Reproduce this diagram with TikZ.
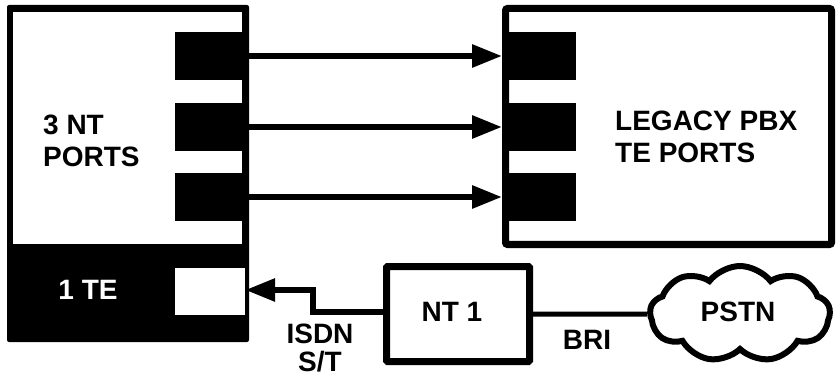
\documentclass[tikz,border=0pt]{standalone}
\usepackage{fontspec}
\setmainfont{Liberation Sans}
\usetikzlibrary{arrows.meta,shapes.symbols}
\begin{document}
\begin{tikzpicture}[x=1pt,y=-1pt,
  lbl/.style={font=\fontsize{28}{32}\selectfont\bfseries, inner sep=0pt},
  blk/.style={fill=black, draw=none, inner sep=0pt},
  wht/.style={fill=white, draw=none, inner sep=0pt},
  portbox/.style={blk, minimum width=67pt, minimum height=48pt},
  conn/.style={line width=6pt, -{Triangle[length=30pt,width=22pt]}},
  frame/.style={draw=black, fill=white, line width=7pt, rounded corners=2pt, inner sep=0pt}
]
\useasboundingbox (0,0) rectangle (837,379);
% left device
\node[blk, rounded corners=2pt, minimum width=242pt, minimum height=337pt] (nt) at (128,173.5) {};
\node[wht, minimum width=229pt, minimum height=232pt] (ntin) at (127.5,128) {};
\node[portbox] (lp1) at (208.5,56) {};
\node[portbox] (lp2) at (208.5,127) {};
\node[portbox] (lp3) at (208.5,197) {};
\node[wht, minimum width=70pt, minimum height=47pt] (tep) at (210,291.5) {};
\node[lbl, align=left, anchor=west] (ntl) at (43,141) {3 NT\\PORTS};
\node[lbl, text=white] (tel) at (88,290) {1 TE};
% PBX
\node[frame, minimum width=326pt, minimum height=236pt] (pbx) at (668.5,126.5) {};
\node[portbox] (rp1) at (542.5,56) {};
\node[portbox] (rp2) at (542.5,127) {};
\node[portbox] (rp3) at (542.5,197) {};
\node[lbl, align=left, anchor=west] (pbxl) at (615,137) {LEGACY PBX\\TE PORTS};
% arrows
\draw[conn] (lp1.east) -- (lp1 -| pbx.west);
\draw[conn] (lp2.east) -- (lp2 -| pbx.west);
\draw[conn] (lp3.east) -- (lp3 -| pbx.west);
% NT1
\node[frame, line width=7pt, rounded corners=1pt, minimum width=143pt, minimum height=95pt] (nt1) at (458,314) {};
\node[lbl] (nt1l) at (452,312) {NT 1};
\coordinate (b1) at (313,312);
\coordinate (b2) at (313,290);
\draw[conn] (nt1.west |- b1) -- (b1) -- (b2) -- (b2 -| tep.east);
\node[lbl] (isdn) at (320,334) {ISDN};
\node[lbl] (st) at (320,362) {S/T};
% PSTN
\node[cloud, draw=black, line width=6pt, cloud puffs=9, cloud puff arc=105, cloud ignores aspect, minimum width=180pt, minimum height=96pt, inner sep=0pt] (pstn) at (740,314) {};
\node[lbl] (pstnl) at (738,312) {PSTN};
\draw[line width=5pt] (nt1.east |- pstn) -- (pstn.west);
\node[lbl] (bri) at (587,340) {BRI};
\end{tikzpicture}
\end{document}
